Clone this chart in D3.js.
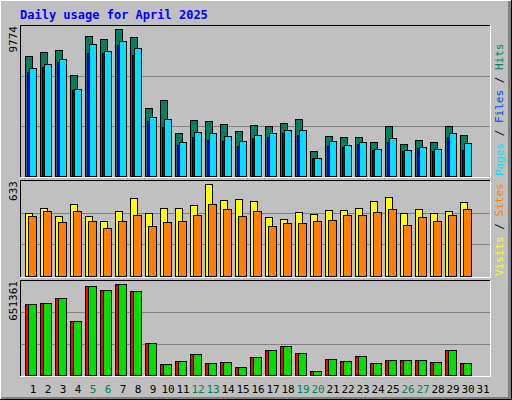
<!DOCTYPE html>
<html><head><meta charset="utf-8">
<script src="https://cdn.jsdelivr.net/npm/d3@7"></script>
<style>body{margin:0;background:#fff}</style>
</head><body>
<svg id="chart" width="512" height="400"></svg>
<script>
var days = d3.range(1, 32);
var weekends = [5, 6, 12, 13, 19, 20, 26, 27];
var hits  = [8000,8256,8386,6690,9297,9100,9774,9230,4540,5060,2850,3714,3630,3430,2975,3370,3300,3500,3760,1670,2650,2590,2590,2260,3300,2130,2390,2260,3300,2720,0];
var files = [6890,7280,7600,5715,8190,8190,8710,8060,3630,3240,2065,2590,2390,2325,2000,2520,2590,2850,2720,1220,2000,1935,2130,1740,2260,1680,1870,1680,2590,1740,0];
var pages = [7210,7470,7800,5780,8775,8320,8970,8515,3890,3760,2260,2910,2850,2650,2325,2720,2850,3040,3040,1220,2325,2065,2260,1800,2520,1740,1935,1800,2850,2195,0];
var visits = [433,468,413,495,413,378,447,537,433,468,468,489,633,523,530,516,406,392,440,427,454,454,468,516,544,433,461,433,447,509,0];
var sites  = [413,447,372,447,378,330,378,420,344,372,378,420,495,461,413,447,344,365,365,378,385,420,420,440,461,351,406,378,420,461,0];
var kbF   = [508200,515400,551150,386500,637050,608400,651361,601250,229050,78700,100200,150300,85900,93050,57250,128850,178950,207600,157500,28600,114500,100200,136000,85900,107350,107350,107350,93050,178950,85900,0];
var kbOut = kbF.slice();

var svg = d3.select("#chart");
var font = "'DejaVu Sans Mono', monospace";

// frame
svg.append("rect").attr("width",512).attr("height",400).attr("fill","#C0C0C0");
svg.append("path").attr("d","M0.5,399.5V0.5H511.5").attr("stroke","#fff").attr("fill","none");
svg.append("path").attr("d","M1,398.5H509.5V1").attr("stroke","#808080").attr("stroke-width",3).attr("fill","none");
svg.append("path").attr("d","M0,399.5H511.5V0").attr("stroke","#000").attr("fill","none");

svg.append("text").attr("x",20).attr("y",19).attr("font-family",font).attr("font-weight","bold")
  .attr("font-size",12).attr("fill","#0000FF").text("Daily usage for April 2025");

var x = d3.scaleBand().domain(days).range([25, 490]).paddingInner(0).paddingOuter(0);

function panel(top, bottom, max, label, legend) {
  var y = d3.scaleLinear().domain([0, max]).range([bottom, top]);
  var g = svg.append("g");
  g.append("path").attr("d","M20.5,"+(bottom+1)+"V"+(top-3.5)+"H490.5").attr("stroke","#000").attr("fill","none");
  g.append("path").attr("d","M20,"+(bottom+1.5)+"H490.5V"+(top-4)).attr("stroke","#fff").attr("fill","none");
  var h = bottom - (top - 3);
  [1/3, 2/3].forEach(function(f){
    var gy = Math.round(bottom - h*f) + 0.5;
    g.append("line").attr("x1",21).attr("x2",490).attr("y1",gy).attr("y2",gy).attr("stroke","#808080");
  });
  svg.append("text").attr("transform","translate(17,"+(top-3)+") rotate(-90)")
    .attr("text-anchor","end").attr("font-family",font).attr("font-size",11).text(label);
  var lt = svg.append("text").attr("transform","translate(503,"+(bottom)+") rotate(-90)")
    .attr("font-family",font).attr("font-size",11);
  legend.forEach(function(l, i){
    if (i) lt.append("tspan").attr("fill","#000").text(" / ");
    lt.append("tspan").attr("fill",l[1]).text(l[0]);
  });
  return y;
}

function bars(data, y, off, w, color) {
  svg.append("g").selectAll("rect").data(data).enter().filter(function(d){return d>0;})
    .append("rect")
    .attr("x", function(d, i){ return x(days[data.indexOf(d) >= 0 ? i : i]) + off + 0.5; })
    .attr("y", function(d){ return Math.round(y(d)) + 0.5; })
    .attr("width", w)
    .attr("height", function(d){ return Math.round(y(0)) - Math.round(y(d)); })
    .attr("fill", color).attr("stroke","#000");
}
function series(data, y, off, w, color) {
  var g = svg.append("g");
  data.forEach(function(d, i){
    if (!d) return;
    g.append("rect").attr("x", x(days[i]) + off + 0.5).attr("y", Math.round(y(d)) + 0.5)
      .attr("width", w).attr("height", Math.round(y(0)) - Math.round(y(d)))
      .attr("fill", color).attr("stroke", "#000");
  });
}

var y1 = panel(29, 176, 9774, "9774", [["Pages","#00E0FF"],["Files","#0040FF"],["Hits","#008060"]]);
series(hits, y1, 0, 7, "#008060");
series(files, y1, 2, 4, "#0000FF");
series(pages, y1, 4, 7, "#00E0FF");

var y2 = panel(184, 276, 633, "633", [["Visits","#FFFF00"],["Sites","#FF8000"]].reverse().reverse());
// legend order bottom->top: Sites / Visits
series(visits, y2, 0, 7, "#FFFF00");
series(sites, y2, 3, 8, "#FF8000");

var y3 = panel(284, 375, 651361, "651361", []);
series(kbF, y3, 0, 7, "#FF0000");
series(kbOut, y3, 3, 8, "#00E000");

svg.append("g").attr("transform","translate(0,393)").selectAll("text").data(days).enter().append("text")
  .attr("x", function(d){ return x(d) + 8; }).attr("text-anchor","middle")
  .attr("font-family",font).attr("font-size",11)
  .attr("fill", function(d){ return weekends.indexOf(d) >= 0 ? "#00805C" : "#000"; })
  .text(function(d){ return d; });
</script>
</body></html>
